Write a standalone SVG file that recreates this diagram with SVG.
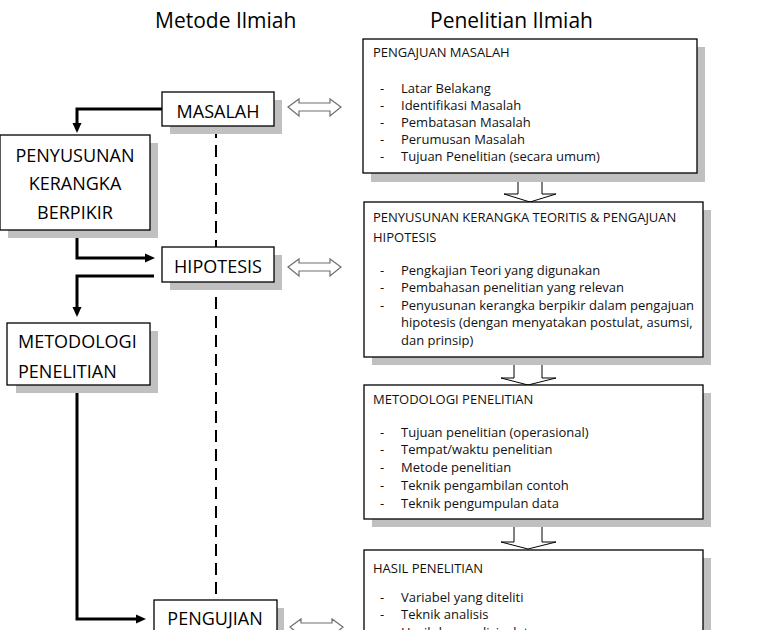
<svg xmlns="http://www.w3.org/2000/svg" width="768" height="630" viewBox="0 0 768 630">
<style>
.title{font-family:"Open Sans","Liberation Sans",sans-serif;font-size:21px;fill:#000}
.node{fill:#fff;stroke:#000;stroke-width:1.3}
.shadow{fill:#c0c0c0}
.nt{font-family:"Open Sans","Liberation Sans",sans-serif;font-size:18px;fill:#000}
.bt{font-family:"Open Sans","Liberation Sans",sans-serif;font-size:13px;fill:#111}
.conn{fill:none;stroke:#000;stroke-width:3}
.dash{fill:none;stroke:#000;stroke-width:2;stroke-dasharray:12 7}
.dbl{fill:#fff;stroke:#6e6e6e;stroke-width:1.2}
.down{fill:#fff;stroke:#000;stroke-width:1}
</style>
<defs>
<marker id="ah" markerUnits="userSpaceOnUse" markerWidth="10" markerHeight="10" refX="5" refY="5" orient="auto">
<path d="M0,0.5 L10,5 L0,9.5 z" fill="#000"/>
</marker>
<polygon id="dblArrow" points="288,0 299,-8 299,-4 330,-4 330,-8 341,0 330,9 330,4 299,4 299,9"/>
</defs>
<rect width="768" height="630" fill="#fff"/>
<text class="title" x="155" y="28">Metode Ilmiah</text>
<text class="title" x="430" y="28">Penelitian Ilmiah</text>

<g id="down-arrows">
<polygon class="down" points="518,170 542,170 542,194 556,194 530,202 504,194 518,194"/>
<polygon class="down" points="514,350 542,350 542,378 556,378 528,385 501,378 514,378"/>
<polygon class="down" points="514,515 542,515 542,542 556,542 528,549 501,542 514,542"/>
</g>

<g id="connectors">
<path class="dash" d="M216,126 V600"/>
<path class="conn" d="M162,109 H77 V128" marker-end="url(#ah)"/>
<path class="conn" d="M77,230 V258 H150" marker-end="url(#ah)"/>
<path class="conn" d="M154,276 H77 V312" marker-end="url(#ah)"/>
<path class="conn" d="M77,385 V619 H141" marker-end="url(#ah)"/>
<use href="#dblArrow" class="dbl" transform="translate(0,107)"/>
<use href="#dblArrow" class="dbl" transform="translate(0,267)"/>
<use href="#dblArrow" class="dbl" transform="translate(2,627)"/>
</g>

<g id="masalah">
<rect class="shadow" x="170" y="100" width="112" height="34"/>
<rect class="node" x="162" y="92" width="112" height="34"/>
<text class="nt" x="218" y="118" text-anchor="middle">MASALAH</text>
</g>
<g id="penyusunan">
<rect class="shadow" x="8" y="143" width="150" height="95"/>
<rect class="node" x="0" y="135" width="150" height="95"/>
<text class="nt" x="75" y="162" text-anchor="middle">PENYUSUNAN</text>
<text class="nt" x="75" y="190" text-anchor="middle">KERANGKA</text>
<text class="nt" x="75" y="219" text-anchor="middle">BERPIKIR</text>
</g>
<g id="hipotesis">
<rect class="shadow" x="170" y="255" width="112" height="35"/>
<rect class="node" x="162" y="247" width="112" height="35"/>
<text class="nt" x="218" y="273" text-anchor="middle">HIPOTESIS</text>
</g>
<g id="metodologi">
<rect class="shadow" x="16" y="331" width="142" height="62"/>
<rect class="node" x="7" y="323" width="143" height="62"/>
<text class="nt" x="18" y="348">METODOLOGI</text>
<text class="nt" x="18" y="378">PENELITIAN</text>
</g>
<g id="pengujian">
<rect class="shadow" x="162" y="608" width="122" height="40"/>
<rect class="node" x="154" y="600" width="123" height="40"/>
<text class="nt" x="215" y="625" text-anchor="middle">PENGUJIAN</text>
</g>

<g id="box-pengajuan">
<rect class="shadow" x="371" y="47" width="334" height="135"/>
<rect class="node" x="363" y="39" width="334" height="134"/>
<text class="bt" x="373" y="57">PENGAJUAN MASALAH</text>
<text class="bt" x="380" y="93">-</text><text class="bt" x="401" y="93">Latar Belakang</text>
<text class="bt" x="380" y="110">-</text><text class="bt" x="401" y="110">Identifikasi Masalah</text>
<text class="bt" x="380" y="127">-</text><text class="bt" x="401" y="127">Pembatasan Masalah</text>
<text class="bt" x="380" y="144">-</text><text class="bt" x="401" y="144">Perumusan Masalah</text>
<text class="bt" x="380" y="161">-</text><text class="bt" x="401" y="161">Tujuan Penelitian (secara umum)</text>
</g>
<g id="box-kerangka">
<rect class="shadow" x="372" y="210" width="339" height="155"/>
<rect class="node" x="364" y="202" width="339" height="155"/>
<text class="bt" x="373" y="222">PENYUSUNAN KERANGKA TEORITIS &amp; PENGAJUAN</text>
<text class="bt" x="373" y="242">HIPOTESIS</text>
<text class="bt" x="380" y="275">-</text><text class="bt" x="401" y="275">Pengkajian Teori yang digunakan</text>
<text class="bt" x="380" y="292">-</text><text class="bt" x="401" y="292">Pembahasan penelitian yang relevan</text>
<text class="bt" x="380" y="310">-</text><text class="bt" x="401" y="310">Penyusunan kerangka berpikir dalam pengajuan</text>
<text class="bt" x="401" y="327">hipotesis (dengan menyatakan postulat, asumsi,</text>
<text class="bt" x="401" y="345">dan prinsip)</text>
</g>
<g id="box-metodologi">
<rect class="shadow" x="372" y="393" width="339" height="134"/>
<rect class="node" x="364" y="385" width="339" height="134"/>
<text class="bt" x="373" y="404">METODOLOGI PENELITIAN</text>
<text class="bt" x="380" y="437">-</text><text class="bt" x="401" y="437">Tujuan penelitian (operasional)</text>
<text class="bt" x="380" y="454">-</text><text class="bt" x="401" y="454">Tempat/waktu penelitian</text>
<text class="bt" x="380" y="472">-</text><text class="bt" x="401" y="472">Metode penelitian</text>
<text class="bt" x="380" y="490">-</text><text class="bt" x="401" y="490">Teknik pengambilan contoh</text>
<text class="bt" x="380" y="508">-</text><text class="bt" x="401" y="508">Teknik pengumpulan data</text>
</g>
<g id="box-hasil">
<rect class="shadow" x="372" y="558" width="339" height="90"/>
<rect class="node" x="364" y="550" width="339" height="90"/>
<text class="bt" x="373" y="573">HASIL PENELITIAN</text>
<text class="bt" x="380" y="602">-</text><text class="bt" x="401" y="602">Variabel yang diteliti</text>
<text class="bt" x="380" y="619">-</text><text class="bt" x="401" y="619">Teknik analisis</text>
<text class="bt" x="380" y="637">-</text><text class="bt" x="401" y="637">Hasil dan analisis data</text>
</g>
</svg>
